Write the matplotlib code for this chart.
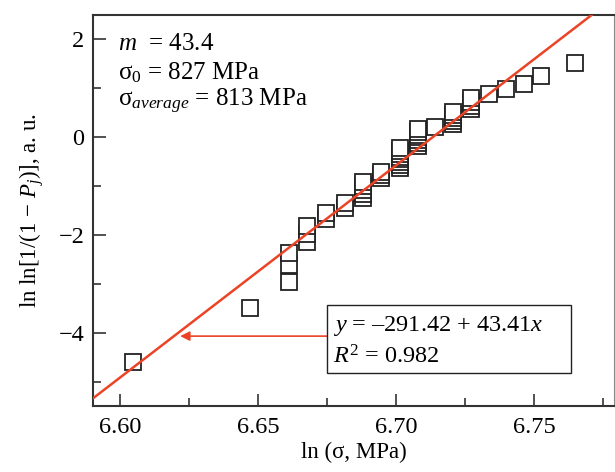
import matplotlib
matplotlib.use('Agg')
import matplotlib.pyplot as plt
import numpy as np
from matplotlib.patches import Rectangle
from matplotlib.ticker import MultipleLocator, FormatStrFormatter

plt.rcParams['font.family'] = ['Liberation Serif', 'DejaVu Serif']
plt.rcParams['mathtext.fontset'] = 'custom'
plt.rcParams['mathtext.rm'] = 'Liberation Serif'
plt.rcParams['mathtext.it'] = 'Liberation Serif:italic'

# ln(sigma) of each specimen, sorted by rank
ln_sigma = [6.6046, 6.6471,
            6.6610, 6.6610, 6.6610,
            6.6678, 6.6678, 6.6678,
            6.6745, 6.6745,
            6.6813, 6.6813,
            6.6879, 6.6879, 6.6879, 6.6879, 6.6879,
            6.6946, 6.6946, 6.6946,
            6.7012, 6.7012, 6.7012, 6.7012, 6.7012, 6.7012, 6.7012, 6.7012,
            6.7079, 6.7079, 6.7079, 6.7079, 6.7079, 6.7079, 6.7079,
            6.7141,
            6.7205, 6.7205, 6.7205, 6.7205, 6.7205,
            6.7271, 6.7271, 6.7271, 6.7271,
            6.7336, 6.7399, 6.7463, 6.7524, 6.7649]
# ln ln[1/(1-Pj)]
lnln = [-4.600, -3.491,
        -2.970, -2.623, -2.361,
        -2.150, -1.971, -1.817,
        -1.680, -1.557,
        -1.445, -1.342,
        -1.246, -1.156, -1.071, -0.991, -0.915,
        -0.842, -0.772, -0.705,
        -0.639, -0.576, -0.514, -0.454, -0.396, -0.338, -0.281, -0.225,
        -0.170, -0.115, -0.060, -0.006, 0.049, 0.103, 0.158,
        0.213,
        0.270, 0.327, 0.385, 0.445, 0.507,
        0.572, 0.640, 0.713, 0.792,
        0.879, 0.978, 1.097, 1.255, 1.527]

fit_intercept = -291.42
fit_slope = 43.41
red = '#ec4326'

fig = plt.figure(figsize=(6.15, 4.72), dpi=100)
ax = fig.add_axes([0.1507, 0.1398, 0.8481, 0.8284])

ax.plot(ln_sigma, lnln, linestyle='none', marker='s', markersize=11,
        markerfacecolor='white', markeredgecolor='#222222', markeredgewidth=1.3, zorder=2)

xlim = (6.59, 6.779)
xs = np.array(xlim)
ax.plot(xs, fit_intercept + fit_slope * xs, color=red, lw=1.8, zorder=3)

ax.set_xlim(*xlim)
ax.set_ylim(-5.5, 2.5)

ax.xaxis.set_major_locator(MultipleLocator(0.05))
ax.xaxis.set_minor_locator(MultipleLocator(0.025))
ax.xaxis.set_major_formatter(FormatStrFormatter('%.2f'))
ax.yaxis.set_major_locator(MultipleLocator(2))
ax.yaxis.set_minor_locator(MultipleLocator(1))
ax.tick_params(which='both', direction='in', top=False, right=False,
               labelsize=17.5, width=1.2, color='#333333')
ax.tick_params(which='major', length=9)
ax.tick_params(axis='x', which='major', pad=8)
ax.tick_params(axis='y', which='major', pad=6)
ax.tick_params(which='minor', length=5.5)

for side in ['left', 'bottom', 'top']:
    ax.spines[side].set_linewidth(1.5)
    ax.spines[side].set_color('#333333')
ax.spines['right'].set_linewidth(0.8)
ax.spines['right'].set_color('#888888')

ax.set_xlabel('ln (σ, MPa)', fontsize=16.5, labelpad=3)
ax.set_ylabel('ln ln[1/(1 − $P_j$)], a. u.', fontsize=16.5, labelpad=9)

ax.text(0.049, 0.9105, '$m$  = 43.4', transform=ax.transAxes, fontsize=18, va='baseline')
ax.text(0.049, 0.8363, 'σ$_0$ = 827 MPa', transform=ax.transAxes, fontsize=18, va='baseline')
ax.text(0.049, 0.767, 'σ$_{average}$ = 813 MPa', transform=ax.transAxes, fontsize=18, va='baseline')

# equation box
ax.add_patch(Rectangle((6.6750, -4.833), 0.0884, 1.393, fc='white', ec='#222222', lw=1.0, zorder=4))
ax.text(6.6772, -3.967, '$y$ = –291.42 + 43.41$x$', fontsize=17.5, va='baseline', zorder=5)
ax.text(6.6772, -4.622, '$R^2$ = 0.982', fontsize=17.5, va='baseline', zorder=5)
ax.annotate('', xy=(6.6217, -4.07), xytext=(6.6750, -4.07),
            arrowprops=dict(arrowstyle='-|>', color=red, lw=1.2, mutation_scale=14,
                            shrinkA=0, shrinkB=0))

fig.savefig('out.png', dpi=100)
